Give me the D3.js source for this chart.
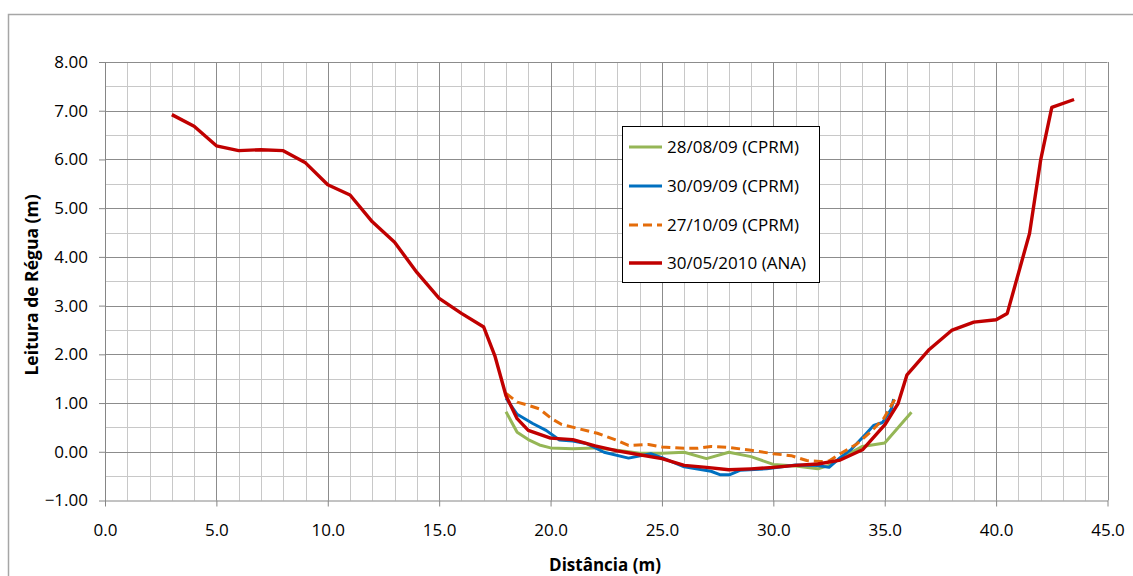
<!DOCTYPE html>
<html>
<head>
<meta charset="utf-8">
<script src="https://cdn.jsdelivr.net/npm/d3@7/dist/d3.min.js"></script>
<style>
  html, body { margin: 0; padding: 0; background: #fff; }
  svg { display: block; }
  text { font-family: "Open Sans", "Noto Sans", sans-serif; fill: #000; }
</style>
</head>
<body>
<svg id="chart" width="1133" height="576"></svg>
<script>
// ---- Data ----
const seriesNames = ["28/08/09 (CPRM)", "30/09/09 (CPRM)", "27/10/09 (CPRM)", "30/05/2010 (ANA)"];

const s1_x = [18, 18.5, 19, 19.5, 20, 21, 22, 23, 24, 25, 26, 27, 28, 29, 30, 31, 32, 32.5, 33, 34, 35, 36.2];
const s1_y = [0.82, 0.40, 0.25, 0.14, 0.08, 0.06, 0.08, 0.03, -0.03, -0.03, -0.01, -0.14, -0.01, -0.10, -0.26, -0.29, -0.35, -0.28, -0.14, 0.11, 0.18, 0.81];

const s2_x = [18, 18.5, 19.2, 19.8, 20.4, 21, 21.6, 22.4, 23.5, 24.5, 25, 26, 27.2, 27.6, 28.05, 28.5, 29.7, 31, 32, 32.5, 33, 33.5, 34.1, 34.5, 34.9, 35.3, 35.4];
const s2_y = [1.10, 0.77, 0.58, 0.44, 0.24, 0.22, 0.17, -0.01, -0.13, -0.04, -0.12, -0.31, -0.40, -0.47, -0.47, -0.38, -0.35, -0.27, -0.28, -0.32, -0.12, 0.05, 0.34, 0.54, 0.60, 0.88, 1.08];

const s3_x = [18, 18.5, 19.1, 19.5, 20.05, 20.5, 21.3, 22.1, 23, 23.5, 24.4, 25, 26, 26.6, 27.2, 28, 29, 30, 30.8, 31.5, 32.1, 32.5, 33, 33.75, 34.35, 34.95, 35.47];
const s3_y = [1.20, 1.02, 0.94, 0.88, 0.68, 0.56, 0.47, 0.38, 0.23, 0.13, 0.15, 0.10, 0.07, 0.07, 0.11, 0.09, 0.03, -0.04, -0.08, -0.18, -0.20, -0.19, -0.04, 0.16, 0.40, 0.68, 1.09];

const s4_x = [3, 4, 5, 6, 7, 8, 9, 10, 11, 12, 13, 14, 15, 16, 17, 17.5, 18, 18.5, 19, 20, 21, 22, 23, 24, 25, 26, 27, 28, 29, 30, 31, 32, 33, 34, 35, 35.6, 36, 37, 38, 39, 40, 40.5, 41, 41.5, 42, 42.5, 43.5];
const s4_y = [6.92, 6.68, 6.28, 6.18, 6.20, 6.18, 5.93, 5.48, 5.27, 4.72, 4.30, 3.68, 3.15, 2.84, 2.56, 1.97, 1.15, 0.68, 0.44, 0.28, 0.25, 0.12, 0.02, -0.06, -0.14, -0.28, -0.32, -0.37, -0.35, -0.32, -0.28, -0.25, -0.17, 0.04, 0.55, 0.99, 1.58, 2.10, 2.49, 2.66, 2.71, 2.84, 3.66, 4.48, 5.99, 7.07, 7.23];

const xTicks = [0, 5, 10, 15, 20, 25, 30, 35, 40, 45];
const yTicks = [-1, 0, 1, 2, 3, 4, 5, 6, 7, 8];
const xTitle = "Distância (m)";
const yTitle = "Leitura de Régua (m)";

// ---- Build series table ----
const series = [
  { name: seriesNames[0], xs: s1_x, ys: s1_y, color: "#95b656", width: 3, dash: null },
  { name: seriesNames[1], xs: s2_x, ys: s2_y, color: "#0070c0", width: 3, dash: null },
  { name: seriesNames[2], xs: s3_x, ys: s3_y, color: "#e46c0a", width: 3, dash: "9,5" },
  { name: seriesNames[3], xs: s4_x, ys: s4_y, color: "#c00000", width: 3.4, dash: null }
].map(s => ({ ...s, pts: s.xs.map((x, i) => [x, s.ys[i]]) }));

// ---- Layout ----
const svg = d3.select("#chart");
const pLeft = 105, pRight = 1107.5, pTop = 62, pBottom = 500.5;

const x = d3.scaleLinear().domain([0, 45]).range([pLeft, pRight]);
const y = d3.scaleLinear().domain([-1, 8]).range([pBottom, pTop]);

// outer chart border
svg.append("rect")
  .attr("x", 8.5).attr("y", 14.5).attr("width", 1140).attr("height", 620)
  .attr("fill", "none").attr("stroke", "#a6a6a6").attr("stroke-width", 1.5);

// gridlines
const g = svg.append("g");
g.selectAll("line.vmin").data(d3.range(1, 45).filter(v => v % 5 !== 0)).join("line")
  .attr("x1", d => Math.round(x(d)) + 0.5).attr("x2", d => Math.round(x(d)) + 0.5)
  .attr("y1", pTop).attr("y2", pBottom)
  .attr("stroke", "#c8c8c8").attr("stroke-width", 1);
g.selectAll("line.hmin").data(d3.range(-0.5, 8, 1)).join("line")
  .attr("x1", pLeft).attr("x2", pRight)
  .attr("y1", d => Math.round(y(d)) + 0.5).attr("y2", d => Math.round(y(d)) + 0.5)
  .attr("stroke", "#c8c8c8").attr("stroke-width", 1);
g.selectAll("line.vmaj").data(xTicks.slice(1)).join("line")
  .attr("x1", d => Math.round(x(d)) + 0.5).attr("x2", d => Math.round(x(d)) + 0.5)
  .attr("y1", pTop).attr("y2", pBottom)
  .attr("stroke", "#8c8c8c").attr("stroke-width", 1);
g.selectAll("line.hmaj").data(yTicks.slice(1)).join("line")
  .attr("x1", pLeft).attr("x2", pRight)
  .attr("y1", d => Math.round(y(d)) + 0.5).attr("y2", d => Math.round(y(d)) + 0.5)
  .attr("stroke", "#8c8c8c").attr("stroke-width", 1);

// axes
const xAxis = d3.axisBottom(x).tickValues(xTicks).tickSize(6).tickSizeOuter(0)
  .tickFormat(d3.format(".1f")).tickPadding(17);
const yAxis = d3.axisLeft(y).tickValues(yTicks).tickSize(6).tickSizeOuter(0)
  .tickFormat(d3.format(".2f")).tickPadding(11);

const gx = svg.append("g").attr("transform", `translate(0,${pBottom})`).call(xAxis);
const gy = svg.append("g").attr("transform", `translate(${pLeft},0)`).call(yAxis);
[gx, gy].forEach(a => {
  a.select(".domain").attr("stroke", "#868686").attr("stroke-width", 1);
  a.selectAll(".tick line").attr("stroke", "#868686");
  a.selectAll("text").style("font-family", '"Open Sans", sans-serif').style("font-size", "17px").attr("fill", "#000");
});

// series lines
const line = d3.line().x(d => x(d[0])).y(d => y(d[1]));
svg.append("g").selectAll("path").data(series).join("path")
  .attr("d", d => line(d.pts))
  .attr("fill", "none")
  .attr("stroke", d => d.color)
  .attr("stroke-width", d => d.width)
  .attr("stroke-linejoin", "round")
  .attr("stroke-dasharray", d => d.dash);

// axis titles
svg.append("text").attr("x", 605).attr("y", 571).attr("text-anchor", "middle")
  .style("font-size", "17px").style("font-weight", "bold").text(xTitle);
svg.append("text").attr("transform", "translate(38,285) rotate(-90)").attr("text-anchor", "middle")
  .style("font-size", "17.5px").style("font-weight", "bold").text(yTitle);

// legend
const lg = svg.append("g");
lg.append("rect").attr("x", 622.5).attr("y", 126.5).attr("width", 197).attr("height", 156)
  .attr("fill", "#fff").attr("stroke", "#000").attr("stroke-width", 1);
const rowY = [147, 186, 225, 263];
series.forEach((s, i) => {
  lg.append("line").attr("x1", 629).attr("x2", 662).attr("y1", rowY[i]).attr("y2", rowY[i])
    .attr("stroke", s.color).attr("stroke-width", s.width).attr("stroke-dasharray", s.dash);
  lg.append("text").attr("x", 667).attr("y", rowY[i]).attr("dy", "0.35em")
    .style("font-size", "17px").text(s.name);
});
</script>
</body>
</html>
